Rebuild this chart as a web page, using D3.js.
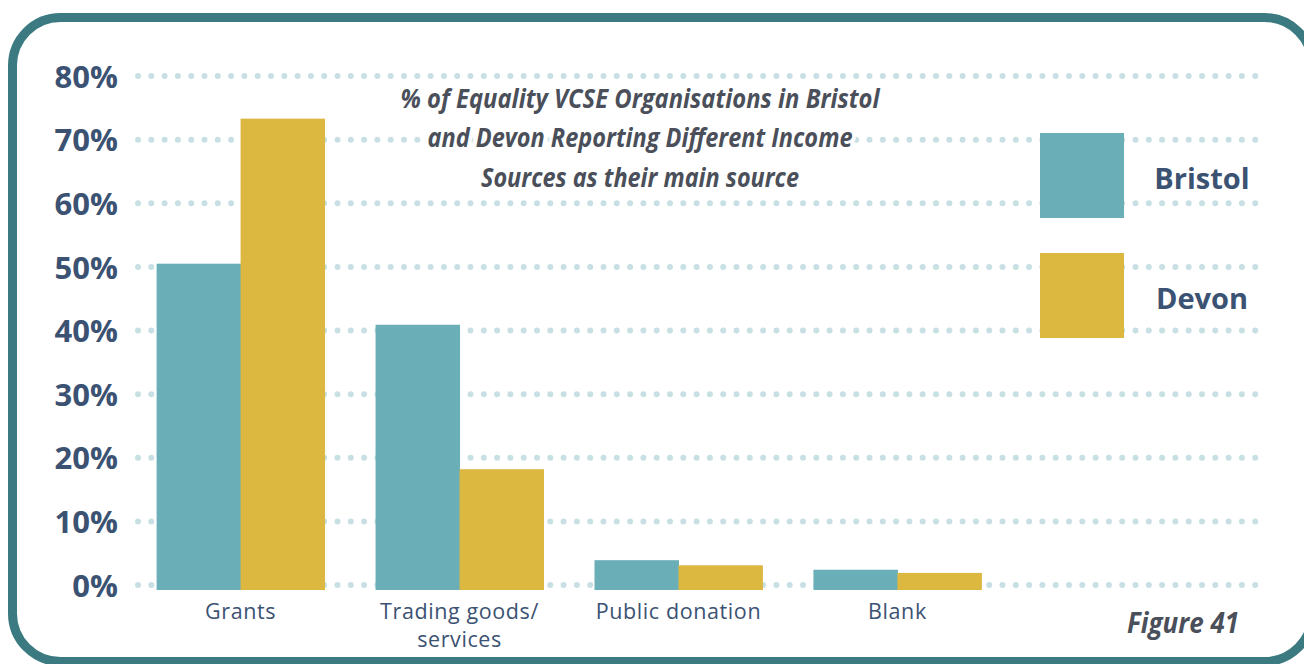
<!DOCTYPE html>
<html>
<head>
<meta charset="utf-8">
<script src="https://cdn.jsdelivr.net/npm/d3@7/dist/d3.min.js"></script>
<style>
  html, body { margin: 0; padding: 0; background: #ffffff; }
  svg { display: block; }
</style>
</head>
<body>
<svg id="chart" width="1304" height="664"></svg>
<script>
// Income sources reported as main source (percent of organisations)
const categories = ["Grants", "Trading goods/ services", "Public donation", "Blank"];
const categoryLines = [["Grants"], ["Trading goods/", "services"], ["Public donation"], ["Blank"]];
const seriesNames = ["Bristol", "Devon"];
const bristolValues = [50.5, 40.9, 3.9, 2.4];
const devonValues = [73.3, 18.2, 3.1, 1.9];
const tickValues = [0, 10, 20, 30, 40, 50, 60, 70, 80];
const tickLabels = ["0%", "10%", "20%", "30%", "40%", "50%", "60%", "70%", "80%"];
const titleLines = [
  "% of Equality VCSE Organisations in Bristol",
  "and Devon Reporting Different Income",
  "Sources as their main source"
];
const figureLabel = "Figure 41";

const colors = { Bristol: "#6aafb7", Devon: "#ddb841" };
const inkBlue = "#3b5273";
const inkGrey = "#4a4f5a";
const gridColor = "#c8e0e4";
const bodyFont = "'Open Sans', 'Noto Sans', sans-serif";
const barFoot = 5; // bars sit slightly below the zero gridline

const svg = d3.select("#chart");

// Rounded frame
svg.append("rect")
  .attr("x", 12.5).attr("y", 17.5)
  .attr("width", 1300).attr("height", 644)
  .attr("rx", 48).attr("ry", 48)
  .attr("fill", "#ffffff")
  .attr("stroke", "#3a7a80")
  .attr("stroke-width", 9);

const x = d3.scaleBand()
  .domain(categories)
  .range([131, 1007])
  .paddingInner(0.233)
  .paddingOuter(0.117);

const xSub = d3.scaleBand()
  .domain(seriesNames)
  .range([0, x.bandwidth()]);

const y = d3.scaleLinear()
  .domain([0, 80])
  .range([585, 76]);

// Dotted gridlines
svg.append("g")
  .selectAll("line")
  .data(tickValues)
  .join("line")
  .attr("x1", 138).attr("x2", 1256)
  .attr("y1", d => y(d)).attr("y2", d => y(d))
  .attr("stroke", gridColor)
  .attr("stroke-width", 6)
  .attr("stroke-linecap", "round")
  .attr("stroke-dasharray", "0 13.3");

// Y axis labels
const yAxis = d3.axisLeft(y)
  .tickValues(tickValues)
  .tickFormat((d, i) => tickLabels[i])
  .tickSize(0)
  .tickPadding(0);

const yG = svg.append("g")
  .attr("transform", "translate(118,0)")
  .call(yAxis);
yG.select(".domain").remove();
yG.selectAll("text")
  .attr("font-family", bodyFont)
  .attr("font-weight", 700)
  .attr("font-size", 31)
  .attr("fill", inkBlue)
  .attr("dy", "0.36em");

// Bars
const rows = categories.map((c, i) => ({
  category: c,
  values: [
    { key: "Bristol", value: bristolValues[i] },
    { key: "Devon", value: devonValues[i] }
  ]
}));

svg.append("g")
  .selectAll("g")
  .data(rows)
  .join("g")
  .attr("transform", d => `translate(${x(d.category)},0)`)
  .selectAll("rect")
  .data(d => d.values)
  .join("rect")
  .attr("x", d => xSub(d.key))
  .attr("width", xSub.bandwidth() + 0.5)
  .attr("y", d => y(d.value))
  .attr("height", d => y(0) - y(d.value) + barFoot)
  .attr("fill", d => colors[d.key]);

// Category labels
const xLabels = svg.append("g")
  .selectAll("text")
  .data(categories)
  .join("text")
  .attr("x", d => x(d) + x.bandwidth() / 2)
  .attr("y", 619)
  .attr("text-anchor", "middle")
  .attr("font-family", bodyFont)
  .attr("font-size", 21.5)
  .attr("letter-spacing", 0.6)
  .attr("fill", inkBlue);
xLabels.selectAll("tspan")
  .data((d, i) => categoryLines[i])
  .join("tspan")
  .attr("x", function () { return d3.select(this.parentNode).attr("x"); })
  .attr("dy", (d, i) => i === 0 ? 0 : 28)
  .text(d => d);

// Title with a soft white halo over the gridlines
const titleWidths = [479, 425, 318];
const titleBaselines = [108, 147, 187];
svg.append("g")
  .selectAll("text")
  .data(titleLines)
  .join("text")
  .attr("x", 640)
  .attr("y", (d, i) => titleBaselines[i])
  .attr("text-anchor", "middle")
  .attr("font-family", bodyFont)
  .attr("font-weight", 700)
  .attr("font-style", "italic")
  .attr("font-size", 27)
  .attr("textLength", (d, i) => titleWidths[i])
  .attr("lengthAdjust", "spacingAndGlyphs")
  .attr("fill", inkGrey)
  .attr("stroke", "#ffffff")
  .attr("stroke-opacity", 0.85)
  .attr("stroke-width", 9)
  .attr("stroke-linejoin", "round")
  .attr("paint-order", "stroke")
  .text(d => d);

// Legend
const legend = svg.append("g")
  .selectAll("g")
  .data(seriesNames)
  .join("g")
  .attr("transform", (d, i) => `translate(1040,${133 + i * 120})`);
legend.append("rect")
  .attr("width", 84).attr("height", 85)
  .attr("fill", d => colors[d]);
legend.append("text")
  .attr("x", 162)
  .attr("y", 56)
  .attr("text-anchor", "middle")
  .attr("font-family", bodyFont)
  .attr("font-weight", 700)
  .attr("font-size", 29)
  .attr("fill", inkBlue)
  .text(d => d);

// Figure number
svg.append("text")
  .attr("x", 1239)
  .attr("y", 633)
  .attr("text-anchor", "end")
  .attr("font-family", bodyFont)
  .attr("font-weight", 700)
  .attr("font-style", "italic")
  .attr("font-size", 29)
  .attr("textLength", 112)
  .attr("lengthAdjust", "spacingAndGlyphs")
  .attr("fill", inkGrey)
  .text(figureLabel);
</script>
</body>
</html>
